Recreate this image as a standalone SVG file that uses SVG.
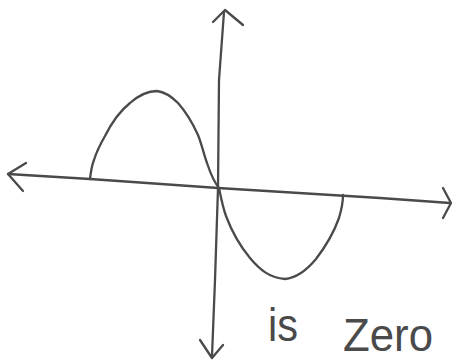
<svg xmlns="http://www.w3.org/2000/svg" width="457" height="362" viewBox="0 0 457 362">
<style>
.ln{fill:none;stroke:#4a4a4a;stroke-width:2.3;stroke-linecap:round;stroke-linejoin:round}
.tx{font-family:"Liberation Sans",Arial,sans-serif;font-size:46px;fill:#4a4a4a;font-weight:normal}
</style>
<rect width="457" height="362" fill="#fff"/>
<g id="axes">
<path class="ln" d="M8,174 L90,179 L218,188 L380,198 L450,203"/>
<path class="ln" d="M26,163 L8,174 L23,191"/>
<path class="ln" d="M443,188 L451,203 L443,218"/>
<path class="ln" d="M224,12 L219,80 L218,188 L215,280 L212,356"/>
<path class="ln" d="M213,22 L225,10 L243,25"/>
<path class="ln" d="M200,340 L212,358 L223,345"/>
</g>
<g id="curve">
<path class="ln" d="M90,179 C91,170 92,165 94,160 C97,150 101,143 105,136 C112,122 120,111 130,103 C138,96 148,91 157,91 C165,92 172,97 178,103 C186,112 193,124 198,135 C202,145 204,155 207,163 C210,172 214,182 219,188 C221,198 223,208 226,216 C232,232 240,246 250,258 C260,270 270,278 285,279 C296,278 306,271 316,259 C326,246 334,232 339,218 C342,208 343,200 343,195"/>
</g>
<g id="label">
<text class="tx" x="268" y="341" textLength="30" lengthAdjust="spacingAndGlyphs">is</text>
<text class="tx" x="343" y="351" textLength="90" lengthAdjust="spacingAndGlyphs">Zero</text>
</g>
</svg>
